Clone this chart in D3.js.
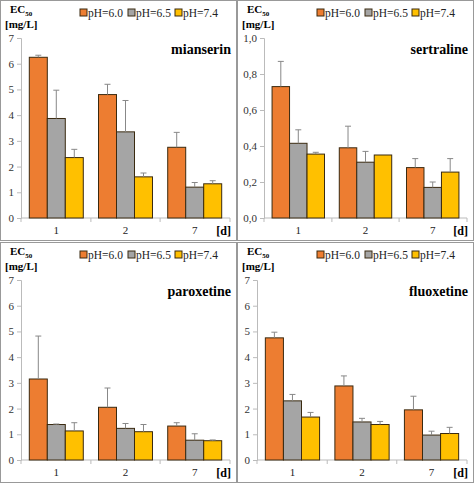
<!DOCTYPE html>
<html>
<head>
<meta charset="UTF-8">
<script src="https://cdn.jsdelivr.net/npm/d3@7"></script>
<style>body{margin:0;background:#fff} svg text{font-family:"Liberation Serif","DejaVu Serif","Times New Roman",serif}</style>
</head>
<body>
<svg id="c" width="474" height="484"></svg>
<script>
var days = ["1", "2", "7"];
var series = ["pH=6.0", "pH=6.5", "pH=7.4"];
var colors = ["#ed7d31", "#a5a5a5", "#ffc000"];

var mianserinVal = [[6.25, 4.8, 2.75], [3.87, 3.35, 1.2], [2.35, 1.6, 1.33]];
var mianserinErr = [[0.08, 0.4, 0.58], [1.1, 1.22, 0.18], [0.32, 0.15, 0.12]];
var sertralineVal = [[0.73, 0.39, 0.28], [0.415, 0.31, 0.17], [0.355, 0.35, 0.255]];
var sertralineErr = [[0.14, 0.12, 0.05], [0.075, 0.06, 0.03], [0.01, 0, 0.075]];
var paroxetineVal = [[3.15, 2.05, 1.32], [1.38, 1.23, 0.77], [1.13, 1.1, 0.75]];
var paroxetineErr = [[1.67, 0.75, 0.13], [0.02, 0.19, 0.25], [0.32, 0.28, 0.03]];
var fluoxetineVal = [[4.75, 2.88, 1.95], [2.3, 1.48, 0.97], [1.67, 1.38, 1.03]];
var fluoxetineErr = [[0.22, 0.39, 0.53], [0.25, 0.14, 0.15], [0.18, 0.12, 0.24]];

var panels = [
  {name: "mianserin", val: mianserinVal, err: mianserinErr, max: 7, step: 1, fmt: d3.format("d"), x: 0, y: 0, axisX: 21},
  {name: "sertraline", val: sertralineVal, err: sertralineErr, max: 1, step: 0.2, fmt: function (d) { return d.toFixed(1).replace(".", ","); }, x: 237, y: 0, axisX: 27},
  {name: "paroxetine", val: paroxetineVal, err: paroxetineErr, max: 7, step: 1, fmt: d3.format("d"), x: 0, y: 242, axisX: 21},
  {name: "fluoxetine", val: fluoxetineVal, err: fluoxetineErr, max: 7, step: 1, fmt: d3.format("d"), x: 237, y: 242, axisX: 20}
];

var svg = d3.select("#c");

panels.forEach(function (p) {
    var g = svg.append("g").attr("transform", "translate(" + p.x + "," + p.y + ")");
    g.append("rect").attr("x", 0.5).attr("y", 0.5).attr("width", 236).attr("height", 240)
        .attr("fill", "none").attr("stroke", "#999");

    var top = 38, bottom = 218, right = 230;
    var y = d3.scaleLinear().domain([0, p.max]).range([bottom, top]);
    var x0 = d3.scaleBand().domain(days).range([p.axisX, right]).paddingInner(0.22).paddingOuter(0.12);
    var x1 = d3.scaleBand().domain([0, 1, 2]).range([0, x0.bandwidth()]);

    var ticks = d3.range(0, p.max + p.step / 2, p.step);
    var ya = g.append("g").attr("transform", "translate(" + p.axisX + ",0)")
        .call(d3.axisLeft(y).tickValues(ticks).tickFormat(p.fmt).tickSize(4));
    ya.attr("font-family", null);
    ya.select(".domain").attr("stroke", "#bbb");
    ya.selectAll(".tick line").attr("stroke", "#bbb");
    ya.selectAll("text").attr("font-size", 11).attr("fill", "#333");

    var xa = g.append("g").attr("transform", "translate(0," + bottom + ")")
        .call(d3.axisBottom(x0).tickSize(0).tickPadding(8));
    xa.attr("font-family", null);
    xa.select(".domain").attr("stroke", "#bbb").attr("d", "M" + p.axisX + ",0H" + right);
    xa.selectAll("text").attr("font-size", 11).attr("fill", "#222");
    [p.axisX, (x0("1") + x0.bandwidth() + x0("2")) / 2, (x0("2") + x0.bandwidth() + x0("7")) / 2, right].forEach(function (t) {
        g.append("line").attr("x1", t).attr("x2", t).attr("y1", bottom).attr("y2", bottom + 4).attr("stroke", "#bbb");
    });

    days.forEach(function (d, di) {
        series.forEach(function (s, si) {
            var v = p.val[si][di], e = p.err[si][di];
            var bx = x0(d) + x1(si), bw = x1.bandwidth();
            g.append("rect").attr("x", bx).attr("y", y(v)).attr("width", bw).attr("height", bottom - y(v))
                .attr("fill", colors[si]).attr("stroke", "#3a2a10").attr("stroke-width", 1);
            if (e > 0) {
                var cx = bx + bw / 2;
                g.append("line").attr("x1", cx).attr("x2", cx).attr("y1", y(v)).attr("y2", y(v + e)).attr("stroke", "#888");
                g.append("line").attr("x1", cx - 3).attr("x2", cx + 3).attr("y1", y(v + e)).attr("y2", y(v + e)).attr("stroke", "#888");
            }
        });
    });

    var t = g.append("text").attr("x", 10).attr("y", 13).attr("font-weight", "bold").attr("font-size", 11);
    t.append("tspan").text("EC");
    t.append("tspan").attr("dy", 3).attr("font-size", 7).text("50");
    g.append("text").attr("x", 5).attr("y", 28).attr("font-weight", "bold").attr("font-size", 11).text("[mg/L]");

    g.append("text").attr("x", 231).attr("y", 54).attr("text-anchor", "end")
        .attr("font-weight", "bold").attr("font-size", 14).text(p.name);
    g.append("text").attr("x", 231).attr("y", 235).attr("text-anchor", "end")
        .attr("font-weight", "bold").attr("font-size", 12).text("[d]");

    var lx = [80, 128, 175];
    series.forEach(function (s, si) {
        g.append("rect").attr("x", lx[si]).attr("y", 9).attr("width", 7).attr("height", 7)
            .attr("fill", colors[si]).attr("stroke", "#3a2a10");
        g.append("text").attr("x", lx[si] + 8).attr("y", 17).attr("font-size", 11.5)
            .attr("fill", "#222").text(s);
    });
});
</script>
</body>
</html>
